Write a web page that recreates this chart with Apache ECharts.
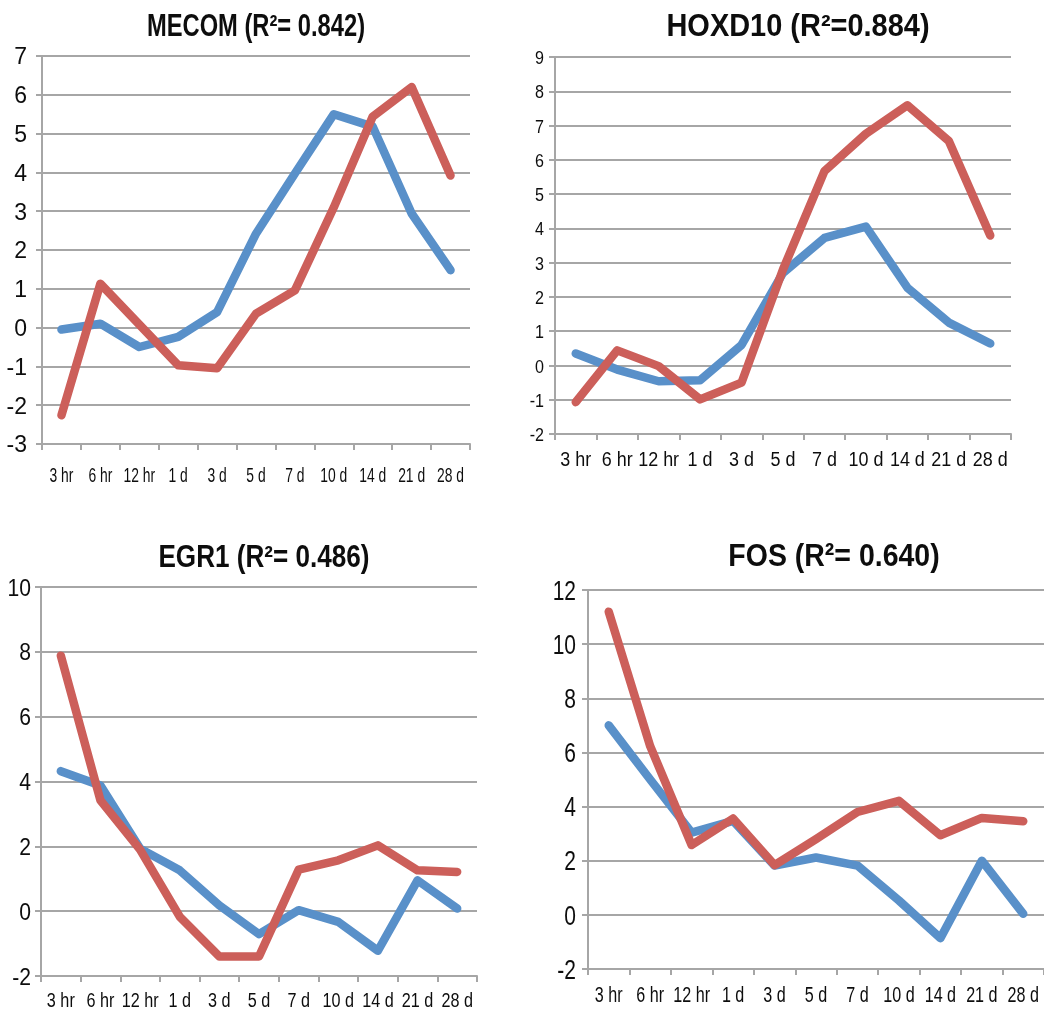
<!DOCTYPE html>
<html>
<head>
<meta charset="utf-8">
<title>Gene expression time course</title>
<script src="https://cdn.jsdelivr.net/npm/echarts@6/dist/echarts.min.js"></script>
<style>
  html, body { margin: 0; padding: 0; background: #fff; overflow: hidden; }
  #chart { width: 1044px; height: 1011px; }
</style>
</head>
<body>
<div id="chart"></div>
<script>
// Time points shared by all four panels
const categories = ['3 hr', '6 hr', '12 hr', '1 d', '3 d', '5 d', '7 d', '10 d', '14 d', '21 d', '28 d'];

// MECOM
const mecomBlue = [-0.05, 0.1, -0.5, -0.24, 0.4, 2.42, 3.97, 5.5, 5.18, 2.94, 1.48];
const mecomRed  = [-2.26, 1.13, 0.08, -0.97, -1.05, 0.36, 0.96, 3.1, 5.44, 6.2, 3.92];
const mecomTicks = [-3, -2, -1, 0, 1, 2, 3, 4, 5, 6, 7];

// HOXD10
const hoxd10Blue = [0.35, -0.12, -0.46, -0.43, 0.6, 2.7, 3.72, 4.05, 2.27, 1.25, 0.64];
const hoxd10Red  = [-1.07, 0.44, -0.02, -0.99, -0.5, 2.8, 5.67, 6.76, 7.59, 6.55, 3.79];
const hoxd10Ticks = [-2, -1, 0, 1, 2, 3, 4, 5, 6, 7, 8, 9];

// EGR1
const egr1Blue = [4.32, 3.88, 1.93, 1.26, 0.18, -0.71, 0.03, -0.33, -1.22, 0.95, 0.08];
const egr1Red  = [7.88, 3.42, 1.9, -0.17, -1.4, -1.4, 1.28, 1.57, 2.03, 1.26, 1.21];
const egr1Ticks = [-2, 0, 2, 4, 6, 8, 10];

// FOS
const fosBlue = [7.0, 5.0, 3.04, 3.47, 1.82, 2.12, 1.82, 0.53, -0.86, 2.0, 0.04];
const fosRed  = [11.2, 6.23, 2.58, 3.56, 1.84, 2.8, 3.8, 4.21, 2.94, 3.58, 3.46];
const fosTicks = [-2, 0, 2, 4, 6, 8, 10, 12];

// Panel titles
const titles = ['MECOM (R\u00B2= 0.842)', 'HOXD10 (R\u00B2=0.884)', 'EGR1 (R\u00B2= 0.486)', 'FOS (R\u00B2= 0.640)'];

const BLUE = '#5990c9';
const RED = '#cc5f5a';
const GRID_GRAY = '#a6a6a6';
const TEXT = '#0d0d0d';
const FONT = '"Liberation Sans", Arial, sans-serif';

// Layout of each panel; condensed text is drawn with a horizontal scale factor
const panels = [
  { blue: mecomBlue,  red: mecomRed,  ticks: mecomTicks,  min: -3, max: 7,  interval: 1,
    grid: { left: 42, top: 56, width: 428, height: 388 },
    title: { x: 256, y: 27, size: 31, sx: 0.765 },
    yLab: { size: 23, sx: 1.0, gap: 15, dy: 2 },
    xLab: { size: 21, sx: 0.66, dy: 32 } },
  { blue: hoxd10Blue, red: hoxd10Red, ticks: hoxd10Ticks, min: -2, max: 9,  interval: 1,
    grid: { left: 555, top: 57, width: 456, height: 377 },
    title: { x: 798, y: 27, size: 31, sx: 0.934 },
    yLab: { size: 18.5, sx: 0.87, gap: 11, dy: 2 },
    xLab: { size: 19.5, sx: 0.92, dy: 27 } },
  { blue: egr1Blue,   red: egr1Red,   ticks: egr1Ticks,   min: -2, max: 10, interval: 2,
    grid: { left: 41, top: 587, width: 436, height: 389 },
    title: { x: 264, y: 558, size: 31, sx: 0.842 },
    yLab: { size: 24, sx: 0.88, gap: 10, dy: 2 },
    xLab: { size: 20, sx: 0.81, dy: 25 } },
  { blue: fosBlue,    red: fosRed,    ticks: fosTicks,    min: -2, max: 12, interval: 2,
    grid: { left: 588, top: 590, width: 458, height: 379 },
    title: { x: 834, y: 557, size: 32, sx: 0.89 },
    yLab: { size: 28, sx: 0.75, gap: 12, dy: 2 },
    xLab: { size: 21.5, sx: 0.75, dy: 27 } }
];

const option = {
  animation: false,
  backgroundColor: '#ffffff',
  graphic: [],
  grid: [],
  xAxis: [],
  yAxis: [],
  series: []
};

panels.forEach((p, i) => {
  // Panel title (condensed bold)
  option.graphic.push({
    type: 'text',
    x: p.title.x,
    y: p.title.y,
    scaleX: p.title.sx,
    silent: true,
    style: {
      text: titles[i],
      fontFamily: FONT,
      fontWeight: 'bold',
      fontSize: p.title.size,
      fill: TEXT,
      align: 'center',
      verticalAlign: 'middle'
    }
  });

  option.grid.push(Object.assign({ containLabel: false }, p.grid));

  option.xAxis.push({
    type: 'category',
    gridIndex: i,
    data: categories,
    boundaryGap: true,
    axisLine: { onZero: false, lineStyle: { color: GRID_GRAY, width: 2 } },
    axisTick: { show: true, length: 6, lineStyle: { color: GRID_GRAY, width: 2 } },
    axisLabel: { show: false },
    splitLine: { show: false }
  });

  option.yAxis.push({
    type: 'value',
    gridIndex: i,
    min: p.min,
    max: p.max,
    interval: p.interval,
    axisLine: { show: true, lineStyle: { color: GRID_GRAY, width: 2 } },
    axisTick: { show: true, length: 6, lineStyle: { color: GRID_GRAY, width: 2 } },
    axisLabel: { show: false },
    splitLine: { show: true, lineStyle: { color: GRID_GRAY, width: 2 } }
  });

  // Data lines: blue first, red drawn on top
  [[p.blue, BLUE], [p.red, RED]].forEach(([values, color]) => {
    option.series.push({
      type: 'line',
      xAxisIndex: i,
      yAxisIndex: i,
      data: values,
      symbol: 'none',
      smooth: false,
      z: 3,
      lineStyle: { color: color, width: 8.5, cap: 'round', join: 'round' },
      itemStyle: { color: color },
      silent: true
    });
  });

  // Category labels under the x axis, placed by the category scale
  option.series.push({
    type: 'custom',
    xAxisIndex: i,
    yAxisIndex: i,
    clip: false,
    silent: true,
    z: 4,
    data: categories.map((c, k) => [k, p.min]),
    renderItem: (params, api) => {
      const pt = api.coord([api.value(0), api.value(1)]);
      return {
        type: 'text',
        x: pt[0],
        y: pt[1] + p.xLab.dy,
        scaleX: p.xLab.sx,
        style: {
          text: categories[params.dataIndex],
          fontFamily: FONT,
          fontSize: p.xLab.size,
          fill: TEXT,
          align: 'center',
          verticalAlign: 'middle'
        }
      };
    }
  });

  // Value labels left of the y axis, placed by the value scale
  option.series.push({
    type: 'custom',
    xAxisIndex: i,
    yAxisIndex: i,
    clip: false,
    silent: true,
    z: 4,
    data: p.ticks.map(v => [0, v]),
    renderItem: (params, api) => {
      const pt = api.coord([0, api.value(1)]);
      return {
        type: 'text',
        x: params.coordSys.x - p.yLab.gap,
        y: pt[1] + p.yLab.dy,
        scaleX: p.yLab.sx,
        style: {
          text: String(p.ticks[params.dataIndex]),
          fontFamily: FONT,
          fontSize: p.yLab.size,
          fill: TEXT,
          align: 'right',
          verticalAlign: 'middle'
        }
      };
    }
  });
});

const chart = echarts.init(document.getElementById('chart'), null, { renderer: 'canvas' });
chart.setOption(option);
</script>
</body>
</html>
